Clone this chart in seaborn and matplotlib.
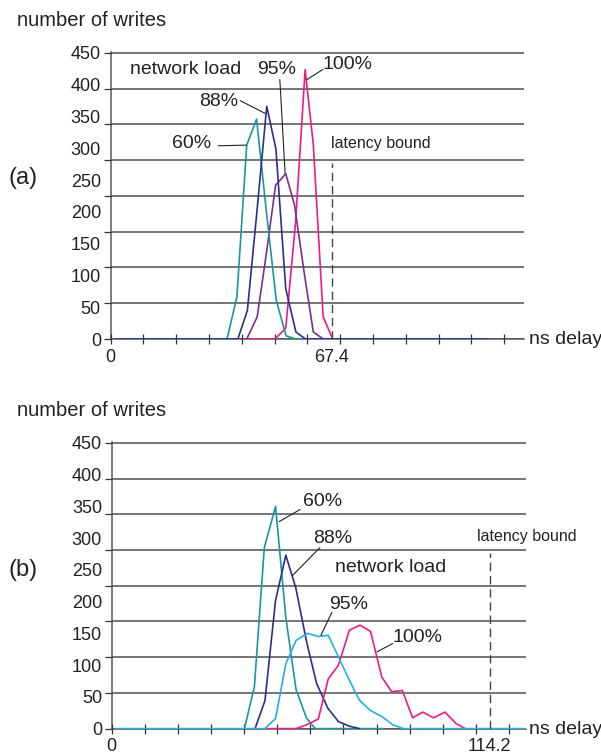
import numpy as np
import pandas as pd
import seaborn as sns
import matplotlib.pyplot as plt
from matplotlib.ticker import FixedLocator

# --- data: ns delay vs number of writes ---
loads = ["60%", "88%", "95%", "100%"]

# (a)
a60_x = [1.2, 35.5, 38.5, 41.5, 44.5, 47.5, 50.5, 53.5, 56.5, 114.8]
a60_y = [0, 0, 66, 305, 346, 200, 61, 5, 0, 0]
a88_x = [1.2, 38.8, 41.7, 44.6, 47.6, 50.4, 53.4, 56.5, 59.4, 114.8]
a88_y = [0, 0, 45, 200, 366, 299, 79, 11, 0, 0]
a95_x = [1.2, 41.5, 44.7, 47.5, 50.3, 53.4, 56.1, 59.0, 61.8, 64.8, 114.8]
a95_y = [0, 0, 35, 135, 242, 260, 210, 105, 11, 0, 0]
a100_x = [1.2, 50.1, 53.4, 56.4, 59.3, 61.8, 64.8, 67.7, 114.8]
a100_y = [0, 0, 17, 184, 424, 306, 35, 0, 0]
bound_a = 67.4

# (b)
b60_x = [40.1, 43.1, 46.1, 49.5, 52.6, 55.7, 58.9, 61.5, 82.0]
b60_y = [0, 66, 285, 350, 175, 61, 16, 0, 0]
b88_x = [43.3, 46.3, 49.5, 52.6, 55.6, 58.9, 61.9, 65.3, 68.5, 71.7, 74.8]
b88_y = [0, 44, 202, 273, 222, 136, 71, 32, 11, 4, 0]
b95_x = [1.2, 46.3, 49.5, 52.6, 55.7, 59.2, 62.4, 65.4, 68.5, 71.8, 74.8,
         78.0, 81.6, 84.9, 88.1, 125.0]
b95_y = [0, 0, 16, 102, 139, 150, 145, 147, 113, 76, 45, 29, 19, 6, 0, 0]
b100_x = [46.5, 55.7, 58.9, 62.4, 65.4, 68.5, 71.8, 75.0, 78.2, 81.6, 84.6,
          87.8, 90.9, 94.0, 97.2, 100.7, 104.0, 106.8]
b100_y = [0, 0, 6, 15, 78, 100, 155, 163, 153, 81, 58, 60, 17, 26, 17, 26, 8, 0]
bound_b = 114.2

y_labels = [0, 50, 100, 150, 200, 250, 300, 350, 400, 450]
x_ticks = list(range(0, 130, 10))


def long_df(series):
    rows = []
    for name, xs, ys in series:
        for x, y in zip(xs, ys):
            rows.append({"delay": x, "writes": y, "load": name})
    return pd.DataFrame(rows)


df_a = long_df([("60%", a60_x, a60_y), ("88%", a88_x, a88_y),
                ("95%", a95_x, a95_y), ("100%", a100_x, a100_y)])
df_b = long_df([("60%", b60_x, b60_y), ("88%", b88_x, b88_y),
                ("95%", b95_x, b95_y), ("100%", b100_x, b100_y)])

pal_a = {"60%": "#17999a", "88%": "#2b2f8e", "95%": "#7d2f8f", "100%": "#ec1a8a"}
pal_b = {"60%": "#17999a", "88%": "#2b2f8e", "95%": "#22b0e6", "100%": "#ec1a8a"}

sns.set_style("white")
plt.rcParams["font.family"] = ["Liberation Sans", "DejaVu Sans"]

W, H = 601, 752
fig = plt.figure(figsize=(W / 100, H / 100), dpi=100)
ax_a = fig.add_axes([110.6 / W, 1 - 339 / H, 413.3 / W, 287.3 / H])
ax_b = fig.add_axes([111.7 / W, 1 - 728.6 / H, 413.8 / W, 287.0 / H])

sns.lineplot(data=df_a, x="delay", y="writes", hue="load",
             hue_order=["100%", "95%", "60%", "88%"], palette=pal_a,
             estimator=None, sort=False, legend=False, lw=1.2, ax=ax_a)
sns.lineplot(data=df_b, x="delay", y="writes", hue="load",
             hue_order=["60%", "88%", "100%", "95%"], palette=pal_b,
             estimator=None, sort=False, legend=False, lw=1.2, ax=ax_b)

grid_levels = np.linspace(0, 450, 9)  # gridlines don't line up with labels in the original

for ax, bound, xmax in [(ax_a, bound_a, 126), (ax_b, bound_b, 125)]:
    ax.set_xlim(0, xmax)
    ax.set_ylim(0, 452)
    ax.set(xlabel=None, ylabel=None)
    ax.xaxis.remove_overlapping_locs = False
    ax.yaxis.remove_overlapping_locs = False
    for s in ["top", "right"]:
        ax.spines[s].set_visible(False)
    for s in ["left", "bottom"]:
        ax.spines[s].set_color("#5a5a5a")
        ax.spines[s].set_linewidth(1.1)
        ax.spines[s].set_zorder(0.5)
    ax.set_xticks(x_ticks)
    ax.set_xticklabels([])
    ax.xaxis.set_minor_locator(FixedLocator([0, bound]))
    ax.set_xticklabels(["0", f"{bound}"], minor=True)
    ax.tick_params(axis="x", which="major", direction="inout", length=7,
                   width=0.9, color="#333333", bottom=True)
    ax.tick_params(axis="x", which="minor", length=0, pad=7, labelsize=13,
                   labelcolor="#222222", bottom=True)
    ax.set_yticks(y_labels)
    ax.yaxis.set_minor_locator(FixedLocator(grid_levels))
    ax.tick_params(axis="y", which="major", length=0, pad=7, labelsize=13,
                   labelcolor="#222222", left=True)
    ax.tick_params(axis="y", which="minor", direction="out", length=5,
                   width=0.9, color="#333333", left=True)
    ax.grid(False)
    ax.yaxis.grid(True, which="minor", color="#505050", lw=1.1)
    ax.set_axisbelow(True)
    ax.vlines(bound, 0, 277, colors="#444444", lw=1.0, linestyles=(0, (6, 3.5)))

# leader labels, panel (a)
txt = dict(fontsize=14, color="#222222", va="center")
ax_a.text(5.9, 424, "network load", ha="left", **txt)
ax_a.text(50.7, 424, "95%", ha="center", **txt)
ax_a.text(72.1, 432, "100%", ha="center", **txt)
ax_a.text(33.0, 374, "88%", ha="center", **txt)
ax_a.text(24.8, 307, "60%", ha="center", **txt)
ax_a.text(67.2, 307, "latency bound", ha="left", fontsize=11.5, color="#222222",
          va="center")
for (x0, y0), (x1, y1) in [((32.8, 304), (41.3, 305)), ((39.5, 375), (47.1, 355)),
                           ((51.6, 408), (53.2, 260)), ((64.7, 424), (59.8, 408))]:
    ax_a.plot([x0, x1], [y0, y1], color="#222222", lw=0.8)

# leader labels, panel (b)
ax_b.text(63.8, 357, "60%", ha="center", **txt)
ax_b.text(66.9, 300, "88%", ha="center", **txt)
ax_b.text(67.5, 253, "network load", ha="left", **txt)
ax_b.text(71.5, 195, "95%", ha="center", **txt)
ax_b.text(92.5, 144, "100%", ha="center", **txt)
ax_b.text(110.4, 303, "latency bound", ha="left", fontsize=11.5, color="#222222",
          va="center")
for (x0, y0), (x1, y1) in [((56.9, 345), (50.6, 326)), ((62.9, 285), (54.6, 241)),
                           ((66.5, 183), (63.2, 147)), ((84.9, 134), (80.2, 121))]:
    ax_b.plot([x0, x1], [y0, y1], color="#222222", lw=0.8)

# outer labels
for yc_title, yc_tag, yc_x, tag in [(20, 178, 339, "(a)"), (410, 570, 729, "(b)")]:
    fig.text(17 / W, 1 - yc_title / H, "number of writes", fontsize=14.5,
             color="#222222", ha="left", va="center")
    fig.text(8 / W, 1 - yc_tag / H, tag, fontsize=17, color="#222222",
             ha="left", va="center")
    fig.text(529 / W, 1 - yc_x / H, "ns delay", fontsize=14, color="#222222",
             ha="left", va="center")

fig.savefig("out.png", dpi=100)
